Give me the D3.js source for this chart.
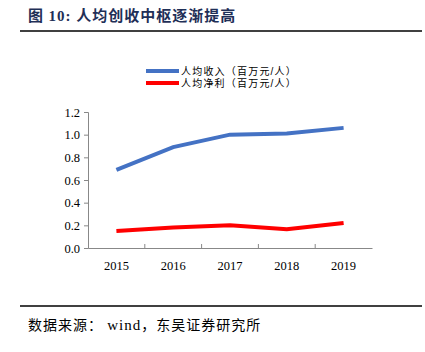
<!DOCTYPE html>
<html>
<head>
<meta charset="utf-8">
<script src="https://cdn.jsdelivr.net/npm/d3@7"></script>
<style>
body{margin:0;background:#fff;}
</style>
</head>
<body>
<script>
const WIDTH = 425, HEIGHT = 352;
const years = ["2015","2016","2017","2018","2019"];
const revenue = [0.69, 0.89, 1.00, 1.01, 1.06];
const profit = [0.15, 0.18, 0.20, 0.165, 0.22];
const yTicks = [0, 0.2, 0.4, 0.6, 0.8, 1.0, 1.2];
const seriesNames = ["人均收入（百万元/人）", "人均净利（百万元/人）"];
const colors = ["#4472C4", "#FF0000"];

const plot = {left: 88, right: 372, top: 112, bottom: 248};

let svg = d3.select("body").append("svg")
    .attr("width", WIDTH).attr("height", HEIGHT);

// title
let title = svg.append("text").attr("x", 28).attr("y", 21)
    .style("font-family", "'Noto Sans CJK SC'").style("font-weight", "bold")
    .style("font-size", "15px").style("letter-spacing", "1px").attr("fill", "#1f2f57");
title.append("tspan").text("图 ");
title.append("tspan").style("font-family", "'Liberation Serif'").text("10: ");
title.append("tspan").text(" 人均创收中枢逐渐提高");
svg.append("line").attr("x1", 20).attr("x2", 422).attr("y1", 31).attr("y2", 31)
    .attr("stroke", "#000").attr("stroke-width", 1.5);

let x = d3.scaleBand().domain(years).range([plot.left, plot.right]);
let y = d3.scaleLinear().domain([0, 1.2]).range([plot.bottom, plot.top]);

// y axis
let yAxis = svg.append("g").attr("transform", `translate(${plot.left},0)`)
    .call(d3.axisLeft(y).tickValues(yTicks).tickFormat(d3.format(".1f")).tickSize(4));
yAxis.select(".domain").attr("stroke", "#888");
yAxis.selectAll(".tick line").attr("stroke", "#888");
yAxis.selectAll("text").style("font-family", "'Liberation Serif'").style("font-size", "12.5px")
    .attr("fill", "#000").attr("x", -8);

// x axis
let xAxis = svg.append("g").attr("transform", `translate(0,${plot.bottom})`)
    .call(d3.axisBottom(x).tickSize(0).tickSizeOuter(0));
xAxis.select(".domain").attr("stroke", "#888");
xAxis.selectAll("text").style("font-family", "'Liberation Serif'").style("font-size", "12.5px")
    .attr("fill", "#000").attr("dy", "1.5em");
svg.append("g").selectAll("line").data(years.slice(1)).enter().append("line")
    .attr("x1", d => x(d)).attr("x2", d => x(d))
    .attr("y1", plot.bottom).attr("y2", plot.bottom - 4)
    .attr("stroke", "#888");

// lines
let line = d3.line().x((d, i) => x(years[i]) + x.bandwidth() / 2).y(d => y(d));
[revenue, profit].forEach((s, i) => {
    svg.append("path").datum(s).attr("d", line)
        .attr("fill", "none").attr("stroke", colors[i]).attr("stroke-width", 4);
});

// legend
let leg = svg.append("g");
seriesNames.forEach((n, i) => {
    let ly = 71 + i * 12;
    leg.append("line").attr("x1", 146).attr("x2", 179).attr("y1", ly).attr("y2", ly)
        .attr("stroke", colors[i]).attr("stroke-width", 4);
    leg.append("text").attr("x", 181).attr("y", ly + 3.5)
        .style("font-family", "'Liberation Sans', 'Noto Sans CJK SC'").style("font-size", "10px")
        .style("letter-spacing", "1.2px")
        .attr("fill", "#000").text(n);
});

// footer
svg.append("line").attr("x1", 20).attr("x2", 422).attr("y1", 306).attr("y2", 306)
    .attr("stroke", "#000").attr("stroke-width", 1.5);
let foot = svg.append("text").attr("x", 28).attr("y", 330)
    .style("font-family", "'Noto Sans CJK SC'").style("font-size", "14px")
    .style("letter-spacing", "1px").attr("fill", "#000");
foot.append("tspan").text("数据来源： ");
foot.append("tspan").style("font-family", "'Liberation Serif'").style("font-size", "15px").text("wind");
foot.append("tspan").text("，东吴证券研究所");
</script>
</body>
</html>
